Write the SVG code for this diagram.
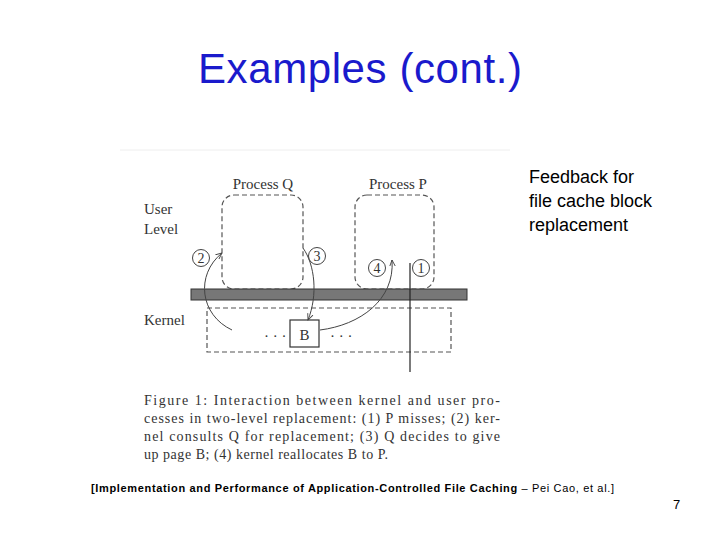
<svg xmlns="http://www.w3.org/2000/svg" width="720" height="540" viewBox="0 0 720 540">
<defs>
<style>
.s{font-family:"Liberation Serif",serif;fill:#333;font-size:15px}
.c{font-family:"Liberation Serif",serif;fill:#333;font-size:14px}
.d{fill:none;stroke:#555;stroke-width:1.2;stroke-dasharray:5,3}
.a{fill:none;stroke:#444;stroke-width:1}
.n{fill:none;stroke:#444;stroke-width:1}
.sans{font-family:"Liberation Sans",Arial,sans-serif}
</style>
<marker id="ah" viewBox="0 0 10 10" refX="9" refY="5" markerWidth="7" markerHeight="7" orient="auto"><path d="M0,1 L9,5 L0,9" fill="none" stroke="#444" stroke-width="1.3"/></marker>
</defs>
<rect width="720" height="540" fill="#fff"/>
<text x="360" y="83" text-anchor="middle" class="sans" font-size="42" fill="#1a1acc" textLength="324">Examples (cont.)</text>
<line x1="120" y1="150" x2="510" y2="150" stroke="#eee" stroke-width="1"/>
<g id="labels">
<text x="144" y="214" class="s">User</text>
<text x="144" y="234" class="s">Level</text>
<text x="144" y="325" class="s">Kernel</text>
</g>
<g id="processQ"><rect x="222" y="195" width="81" height="94" rx="12" class="d"/><text x="263" y="189" text-anchor="middle" class="s">Process Q</text></g>
<g id="processP"><rect x="355" y="195" width="79" height="94" rx="12" class="d"/><text x="398" y="189" text-anchor="middle" class="s">Process P</text></g>
<g id="bar"><rect x="191" y="289" width="276" height="11" fill="#777" stroke="#333" stroke-width="1"/></g>
<g id="kernel"><rect x="207" y="308" width="244" height="44" class="d"/>
<text x="264" y="341" class="s">· · ·</text><text x="330" y="341" class="s">· · ·</text></g>
<g id="B"><rect x="290" y="320" width="29" height="27" fill="#fff" stroke="#333" stroke-width="1.2"/><text x="304.5" y="340" text-anchor="middle" class="s">B</text></g>
<g id="circles">
<circle cx="201" cy="258" r="8.5" class="n"/><text x="201" y="263" text-anchor="middle" class="c">2</text>
<circle cx="317" cy="256" r="8.5" class="n"/><text x="317" y="261" text-anchor="middle" class="c">3</text>
<circle cx="377" cy="268" r="8.5" class="n"/><text x="377" y="273" text-anchor="middle" class="c">4</text>
<circle cx="421" cy="268" r="8.5" class="n"/><text x="421" y="273" text-anchor="middle" class="c">1</text>
</g>
<g id="connectors">
<path d="M232,330 C200,315 195,275 222,253" class="a" marker-end="url(#ah)"/>
<path d="M303,248 C315,265 318,295 308,320" class="a" marker-end="url(#ah)"/>
<path d="M320,330 C360,325 395,300 392,260" class="a" marker-end="url(#ah)"/>
<line x1="410" y1="263" x2="410" y2="372" stroke="#222" stroke-width="1.2"/>
</g>
<g id="caption">
<text x="144" y="405" class="c" textLength="356">Figure 1:  Interaction between kernel and user pro-</text>
<text x="144" y="423" class="c" textLength="356">cesses in two-level replacement: (1) P misses; (2) ker-</text>
<text x="144" y="441" class="c" textLength="356">nel consults Q for replacement; (3) Q decides to give</text>
<text x="144" y="459" class="c" textLength="244">up page B; (4) kernel reallocates B to P.</text>
</g>
<g id="side" class="sans" font-size="18" fill="#000">
<text x="529" y="183">Feedback for</text>
<text x="529" y="207">file cache block</text>
<text x="529" y="231">replacement</text>
</g>
<text x="91" y="492" class="sans" font-size="11" fill="#000" textLength="523"><tspan font-weight="bold">[Implementation and Performance of Application-Controlled File Caching</tspan> – Pei Cao, et al.]</text>
<text x="673" y="509" class="sans" font-size="13" fill="#000">7</text>
</svg>
